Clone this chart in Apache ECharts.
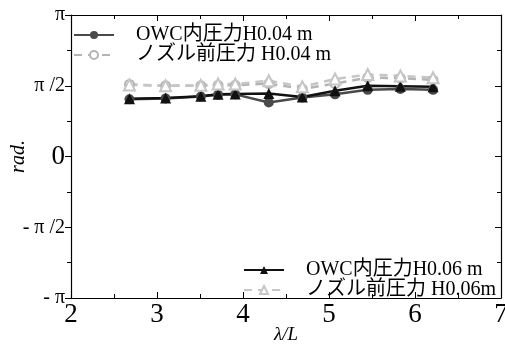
<!DOCTYPE html>
<html><head><meta charset="utf-8">
<script src="https://cdn.jsdelivr.net/npm/echarts@6/dist/echarts.min.js"></script>
<style>html,body{margin:0;padding:0;background:#fff}#c{width:505px;height:345px}</style>
</head><body><div id="c"></div>
<script>
const xValues = [2.68, 3.10, 3.51, 3.71, 3.91, 4.30, 4.69, 5.07, 5.45, 5.83, 6.21];
const owc004 = [1.27, 1.29, 1.33, 1.37, 1.38, 1.20, 1.31, 1.38, 1.48, 1.50, 1.48];
const nozzle004 = [1.60, 1.57, 1.57, 1.58, 1.58, 1.62, 1.50, 1.62, 1.75, 1.74, 1.70];
const owc006 = [1.28, 1.30, 1.34, 1.38, 1.39, 1.40, 1.32, 1.46, 1.57, 1.56, 1.55];
const nozzle006 = [1.59, 1.57, 1.58, 1.61, 1.61, 1.68, 1.55, 1.72, 1.82, 1.79, 1.75];
const seriesNames = ['OWC内圧力H0.04 m', 'ノズル前圧力 H0.04 m', 'OWC内圧力H0.06 m', 'ノズル前圧力 H0.06m'];
const xTickLabels = ['2', '3', '4', '5', '6', '7'];
const yTickLabels = ['- π', '- π /2', '0', 'π /2', 'π'];

const FONT = '"Liberation Serif", "Noto Sans CJK JP", serif';
const pairs = a => a.map((v, i) => [xValues[i], v]);
const chart = echarts.init(document.getElementById('c'));
const axisLine = {show: true, onZero: false, lineStyle: {color: '#000', width: 1.2}};
const legendText = {fontFamily: FONT, fontSize: 20, color: '#000', lineHeight: 17, padding: [0, 0, 0, 17]};
chart.setOption({
  animation: false,
  grid: {left: 71, right: 4, top: 15, bottom: 47, containLabel: false, outerBoundsMode: 'none'},
  legend: [
    {data: [seriesNames[0], seriesNames[1]], left: 73, top: 25, padding: 0, orient: 'vertical', itemWidth: 40, itemHeight: 10, itemGap: 0,
     textStyle: legendText},
    {data: [seriesNames[2], seriesNames[3]], left: 243, top: 260, padding: 0, orient: 'vertical', itemWidth: 40, itemHeight: 10, itemGap: 0,
     textStyle: legendText}
  ],
  xAxis: [
    {type: 'value', min: 2, max: 7, interval: 1, axisLine,
     axisTick: {inside: true, length: 6, lineStyle: {color: '#000'}},
     minorTick: {show: true, splitNumber: 2, length: 4, lineStyle: {color: '#000'}},
     splitLine: {show: false},
     axisLabel: {fontFamily: FONT, fontSize: 27, color: '#000', margin: 3,
       formatter: v => xTickLabels[Math.round(v - 2)]},
     name: 'λ/L', nameLocation: 'middle', nameGap: 27, nameMoveOverlap: false,
     nameTextStyle: {fontFamily: FONT, fontSize: 19, fontStyle: 'italic', color: '#000'}},
    {type: 'value', min: 2, max: 7, interval: 1, position: 'top', axisLine,
     axisTick: {inside: true, length: 6, lineStyle: {color: '#000'}},
     minorTick: {show: true, splitNumber: 2, length: 4, lineStyle: {color: '#000'}},
     splitLine: {show: false}, axisLabel: {show: false}}
  ],
  yAxis: [
    {type: 'value', min: -Math.PI, max: Math.PI, interval: Math.PI / 2, axisLine,
     axisTick: {length: 6, lineStyle: {color: '#000'}},
     minorTick: {show: true, splitNumber: 2, length: 4, lineStyle: {color: '#000'}},
     splitLine: {show: false},
     axisLabel: {fontFamily: FONT, fontSize: 20, color: '#000', margin: 6,
       formatter: v => {
         const i = Math.round(v / (Math.PI / 2)) + 2;
         return i === 2 ? '{z|0}' : yTickLabels[i];
       },
       rich: {z: {fontFamily: FONT, fontSize: 27, color: '#000'}}},
     name: 'rad.', nameLocation: 'middle', nameGap: 42, nameMoveOverlap: false,
     nameTextStyle: {fontFamily: FONT, fontSize: 20, fontStyle: 'italic', color: '#000'}},
    {type: 'value', min: -Math.PI, max: Math.PI, interval: Math.PI / 2, position: 'right', axisLine,
     axisTick: {inside: true, length: 6, lineStyle: {color: '#000'}},
     minorTick: {show: true, splitNumber: 2, length: 4, lineStyle: {color: '#000'}},
     splitLine: {show: false}, axisLabel: {show: false}}
  ],
  series: [
    {name: seriesNames[0], type: 'line', data: pairs(owc004), symbol: 'circle', symbolSize: 10,
     itemStyle: {color: '#4a4a4a'}, lineStyle: {color: '#4a4a4a', width: 2.5}},
    {name: seriesNames[1], type: 'line', data: pairs(nozzle004), symbol: 'emptyCircle', symbolSize: 9,
     itemStyle: {color: '#b4b4b4', borderWidth: 2.5}, lineStyle: {color: '#b4b4b4', width: 2.5, type: [8, 6]}},
    {name: seriesNames[2], type: 'line', data: pairs(owc006), symbol: 'triangle', symbolSize: 11,
     itemStyle: {color: '#111'}, lineStyle: {color: '#111', width: 2.5}},
    {name: seriesNames[3], type: 'line', data: pairs(nozzle006), symbol: 'emptyTriangle', symbolSize: 11,
     itemStyle: {color: '#c6c6c6', borderWidth: 2.5}, lineStyle: {color: '#c6c6c6', width: 2.5, type: [8, 6]}}
  ]
});
</script></body></html>
